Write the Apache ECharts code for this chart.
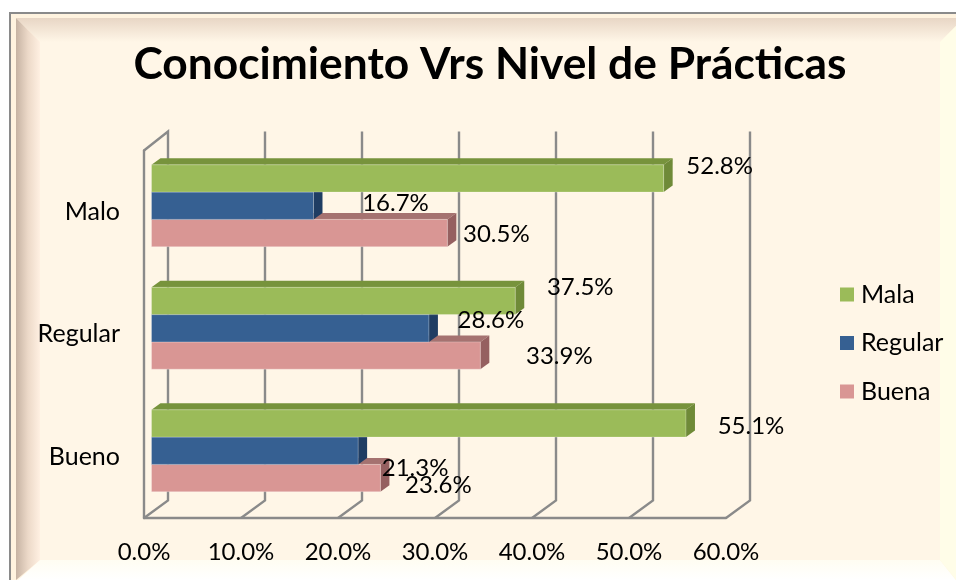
<!DOCTYPE html>
<html><head><meta charset="utf-8">
<style>html,body{margin:0;padding:0;background:#fff}#c{width:956px;height:580px}</style>
<script src="https://cdn.jsdelivr.net/npm/echarts@6/dist/echarts.min.js"></script>
</head><body><div id="c"></div>
<script>
const titleText = 'Conocimiento Vrs Nivel de Prácticas';
const categories = ['Bueno', 'Regular', 'Malo'];
const mala = [55.1, 37.5, 52.8];
const regular = [21.3, 28.6, 16.7];
const buena = [23.6, 33.9, 30.5];
const ticks = [0, 10, 20, 30, 40, 50, 60];

// manual label placement, as in the original chart: [dx from bar end, dy from bar centre]
const malaLabelOffsets = [[65, 2.5], [65, -13.5], [56, -12.5]];
const regularLabelOffsets = [[57, 18], [62, -8], [82, -2.5]];
const buenaLabelOffsets = [[58, 7], [79, 1], [49, 1.5]];

const FONT = 'Lato, Carlito, "Open Sans", sans-serif';
const GRID = {left: 144, top: 150.5, width: 582, height: 367.5};
const WALL_X = 24, WALL_BOTTOM = -17.5, WALL_TOP = -19;
const FLOOR = [7.5, -6];
const DEPTH = [9, -6.5];
const BAR_H = 27.3;
const BG = '#FFF6E7';
const AXIS = '#8A8A8A';

function barSeries(name, values, offsets, slot, front, top, side, z2) {
  return {
    name, type: 'custom', coordinateSystem: 'cartesian2d',
    itemStyle: {color: front},
    encode: {x: 0, y: 1},
    data: values.map((v, i) => [v, i]),
    renderItem(params, api) {
      const v = api.value(0), i = api.value(1);
      const end = api.coord([v, i]);
      const start = api.coord([0, i]);
      const x0 = start[0] + FLOOR[0], x1 = end[0] + FLOOR[0];
      const y0 = end[1] + FLOOR[1] + (slot - 1.5) * BAR_H, y1 = y0 + BAR_H;
      const dx = DEPTH[0], dy = DEPTH[1];
      const off = offsets[i];
      return {type: 'group', children: [
        {type: 'polygon', z2, shape: {points: [[x0, y0], [x0 + dx, y0 + dy], [x1 + dx, y0 + dy], [x1, y0]]}, style: {fill: top}},
        {type: 'polygon', z2, shape: {points: [[x1, y0], [x1 + dx, y0 + dy], [x1 + dx, y1 + dy], [x1, y1]]}, style: {fill: side}},
        {type: 'rect', z2: z2 + 1, shape: {x: x0, y: y0, width: x1 - x0, height: BAR_H}, style: {fill: front, stroke: 'rgba(255,255,255,0.25)', lineWidth: 1}},
        {type: 'text', z2: 20, style: {x: x1 + off[0], y: (y0 + y1) / 2 + off[1], text: v.toFixed(1) + '%', fill: '#000', font: '24px ' + FONT, textAlign: 'center', textVerticalAlign: 'middle'}}
      ]};
    }
  };
}

const wallSeries = {
  type: 'custom', coordinateSystem: 'cartesian2d', silent: true,
  encode: {x: 0, y: 1},
  data: ticks.map(t => [t, 0]),
  renderItem(params, api) {
    const t = api.value(0);
    const x = api.coord([t, 0])[0];
    const cs = params.coordSys;
    const top = cs.y, bottom = cs.y + cs.height;
    const pts = [[x, bottom], [x + WALL_X, bottom + WALL_BOTTOM], [x + WALL_X, top + WALL_TOP]];
    if (t === ticks[0]) pts.push([x, top]);
    return {type: 'polyline', z2: 0, shape: {points: pts}, style: {stroke: AXIS, lineWidth: 2.4, fill: 'none'}};
  }
};

const grad = (x2, y2, stops) => ({type: 'linear', x: 0, y: 0, x2, y2, colorStops: stops.map(([offset, color]) => ({offset, color}))});

const option = {
  animation: false,
  backgroundColor: '#ffffff',
  graphic: [
    {type: 'rect', z: -10, shape: {x: 9, y: 12, width: 947, height: 568}, style: {fill: AXIS}},
    {type: 'rect', z: -9, shape: {x: 11, y: 14, width: 945, height: 566}, style: {fill: '#FFF3DF'}},
    {type: 'rect', z: -8, shape: {x: 40, y: 42, width: 900, height: 518}, style: {fill: BG}},
    {type: 'polygon', z: -8, shape: {points: [[16, 18], [956, 18], [956, 26], [940, 42], [40, 42]]},
      style: {fill: grad(0, 1, [[0, '#E8D6C5'], [1, BG]])}},
    {type: 'polygon', z: -7, shape: {points: [[16, 18], [40, 42], [40, 560], [16, 580]]},
      style: {fill: grad(1, 0, [[0, '#C6B3A3'], [0.5, '#ECD9C8'], [1, '#FFF0E2']])}},
    {type: 'polygon', z: -7, shape: {points: [[40, 560], [940, 560], [956, 580], [18, 580]]},
      style: {fill: grad(0, 1, [[0, '#FFFDF2'], [1, '#FFFFFF']])}},
    {type: 'polygon', z: -7, shape: {points: [[940, 42], [956, 26], [956, 580], [940, 560]]},
      style: {fill: '#FFFDE8'}}
  ],
  title: {text: titleText, left: 485, top: 38, textAlign: 'center',
    textStyle: {fontFamily: FONT, fontWeight: 'bold', fontSize: 44.3, color: '#000'}},
  legend: {
    data: ['Mala', 'Regular', 'Buena'], orient: 'vertical', left: 835, top: 277,
    itemWidth: 14, itemHeight: 14, itemGap: 23.5, icon: 'rect', selectedMode: false,
    textStyle: {fontFamily: FONT, fontSize: 25, color: '#000', padding: [0, 0, 0, 2]}
  },
  grid: GRID,
  xAxis: {
    type: 'value', min: 0, max: 60, interval: 10,
    axisLine: {show: true, lineStyle: {color: AXIS, width: 2.4}},
    axisTick: {show: false}, splitLine: {show: false},
    axisLabel: {formatter: v => v.toFixed(1) + '%', fontFamily: FONT, fontSize: 24, color: '#000', margin: 22}
  },
  yAxis: {
    type: 'category', data: categories,
    axisLine: {show: true, onZero: false, lineStyle: {color: AXIS, width: 2.4}},
    axisTick: {show: false},
    axisLabel: {fontFamily: FONT, fontSize: 25, color: '#000', margin: 24}
  },
  series: [
    wallSeries,
    barSeries('Mala', mala, malaLabelOffsets, 0, '#9BBB59', '#77933C', '#6F8A38', 6),
    barSeries('Regular', regular, regularLabelOffsets, 1, '#366092', '#1F3D63', '#1F3D63', 4),
    barSeries('Buena', buena, buenaLabelOffsets, 2, '#D99694', '#A57270', '#956060', 2)
  ]
};
const chart = echarts.init(document.getElementById('c'), null, {renderer: 'canvas'});
chart.setOption(option);
</script></body></html>
